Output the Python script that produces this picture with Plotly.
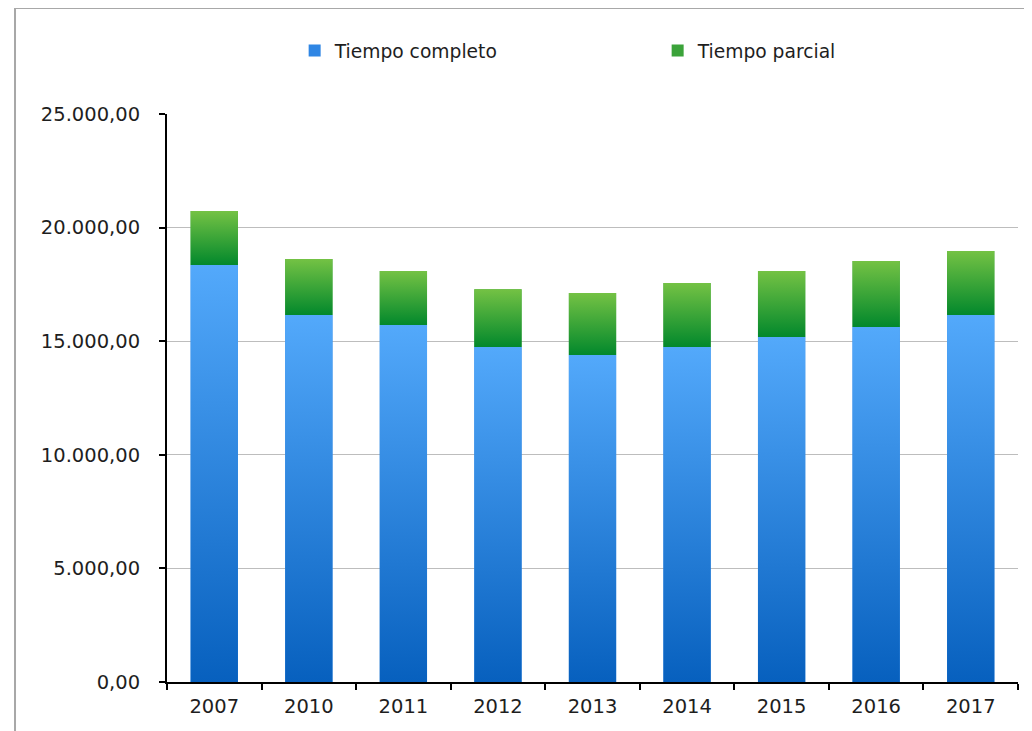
import plotly.graph_objects as go

years = ["2007", "2010", "2011", "2012", "2013", "2014", "2015", "2016", "2017"]
completo = [18350, 16150, 15710, 14740, 14390, 14740, 15180, 15630, 16150]
parcial = [2380, 2470, 2380, 2550, 2730, 2820, 2910, 2900, 2820]
y_ticks = [0, 5000, 10000, 15000, 20000, 25000]

series = [
    ("Tiempo completo", completo, "#2F86E4", [[0, "#0760BE"], [1, "#53A9FB"]]),
    ("Tiempo parcial", parcial, "#3BA33A", [[0, "#02882C"], [1, "#74C244"]]),
]
BAR_W = 0.5
xs = list(range(len(years)))

fig = go.Figure()
# legend + base bars
base = [0] * len(years)
for name, vals, col, cs in series:
    fig.add_trace(go.Bar(x=xs, y=vals, base=base, name=name, width=BAR_W,
                         marker=dict(color=col, line=dict(width=0)),
                         hoverinfo="skip"))
    base = [b + v for b, v in zip(base, vals)]

# gradient overlays per bar, computed from the data
base = [0] * len(years)
for name, vals, col, cs in series:
    for i, (b, v) in enumerate(zip(base, vals)):
        x0, x1 = xs[i] - BAR_W / 2, xs[i] + BAR_W / 2
        fig.add_trace(go.Scatter(
            x=[x0, x1, x1, x0, x0], y=[b, b, b + v, b + v, b],
            mode="lines", line=dict(width=0), fill="toself",
            fillgradient=dict(type="vertical", colorscale=cs),
            showlegend=False, hoverinfo="skip"))
    base = [b + v for b, v in zip(base, vals)]

fig.update_layout(
    width=1032, height=731,
    margin=dict(l=159, r=22, t=106, b=57),
    paper_bgcolor="white", plot_bgcolor="white",
    barmode="overlay",
    separators=",.",
    font=dict(family="DejaVu Sans", size=19.5, color="#1E1E1E"),
    showlegend=True,
    legend=dict(orientation="h", x=0.15, xanchor="left", y=1.111, yanchor="middle",
                entrywidth=318, entrywidthmode="pixels",
                font=dict(size=18.7), bgcolor="rgba(0,0,0,0)"),
    xaxis=dict(range=[-0.5, 8.5], tickmode="array", tickvals=xs, ticktext=years,
               ticks="", showgrid=False, zeroline=False,
               showline=True, linecolor="black", linewidth=2,
               ticklabelstandoff=6,
               minor=dict(tickmode="linear", tick0=-0.5, dtick=1, ticks="outside",
                          ticklen=6, tickwidth=2, tickcolor="black", showgrid=False)),
    yaxis=dict(range=[0, 25000], tickmode="array", tickvals=y_ticks,
               tickformat=",.2f", ticks="outside", ticklen=6, tickwidth=2,
               tickcolor="black", showline=True, linecolor="black", linewidth=2,
               showgrid=True, gridcolor="#BDBDBD", gridwidth=1, zeroline=False,
               ticklabelstandoff=15),
    shapes=[dict(type="rect", xref="paper", yref="paper",
                 x0=-0.1786, x1=1.2, y0=-0.3, y1=1.1866,
                 line=dict(color="#A8A8A8", width=2), fillcolor="rgba(0,0,0,0)",
                 layer="below")],
)

fig.write_html("out.html")
